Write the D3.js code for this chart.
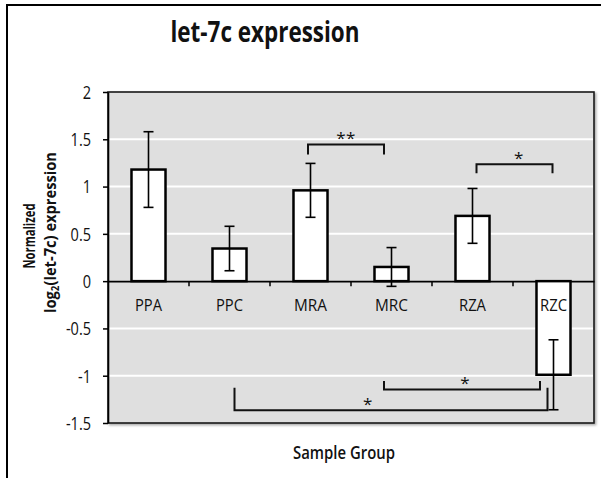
<!DOCTYPE html>
<html>
<head>
<meta charset="utf-8">
<script src="https://cdn.jsdelivr.net/npm/d3@7/dist/d3.min.js"></script>
<style>
  html, body { margin: 0; padding: 0; background: #fff; }
  svg { display: block; }
  text { font-family: "Open Sans", "Liberation Sans", sans-serif; fill: #111; }
</style>
</head>
<body>
<svg id="chart" width="601" height="478"></svg>
<script>
// ---- data ----
const categories = ["PPA", "PPC", "MRA", "MRC", "RZA", "RZC"];
const values = [1.18, 0.345, 0.96, 0.15, 0.69, -0.99];
const errors = [0.40, 0.235, 0.285, 0.205, 0.29, 0.37];
const yTicks = [2, 1.5, 1, 0.5, 0, -0.5, -1, -1.5];
const yTickLabels = ["2", "1.5", "1", "0.5", "0", "-0.5", "-1", "-1.5"];
const titleText = "let-7c expression";
const xTitle = "Sample Group";
// significance brackets: from/to category, bar level and leg end level (value units)
const brackets = [
  { from: "MRA", to: "MRC", level: 1.445, legEnd: 1.34, label: "**" },
  { from: "RZA", to: "RZC", level: 1.237, legEnd: 1.14, label: "*" },
  { from: "MRC", to: "RZC", level: -1.145, legEnd: -1.055, label: "*" },
  { from: "PPC", to: "RZC", level: -1.364, legEnd: -1.128, label: "*" }
];

// ---- layout (not data) ----
const plot = { left: 108, right: 594, top: 92, bottom: 423 };
const bracketLayout = [
  { dx0: -2.5, dx1: -7.5, t: 0.5 },
  { dx0: 4, dx1: -1, t: 0.56 },
  { dx0: -7.5, dx1: -13.5, t: 0.52 },
  { dx0: 5, dx1: -6, t: 0.426 }
];

const svg = d3.select("#chart");

const x = d3.scaleBand().domain(categories)
  .range([plot.left, plot.right]).paddingInner(0.58).paddingOuter(0.29);
const y = d3.scaleLinear().domain([-1.5, 2]).range([plot.bottom, plot.top]);
const cx = c => x(c) + x.bandwidth() / 2;

function fitText(parent, str, px, py, o) {
  const g = parent.append("g")
    .attr("transform", `translate(${px},${py})` + (o.rotate ? ` rotate(${o.rotate})` : ""));
  const t = g.append("text")
    .attr("font-size", o.size)
    .attr("font-weight", o.weight || 400)
    .attr("text-anchor", o.anchor || "middle");
  if (typeof str === "function") str(t); else t.text(str);
  if (o.width) t.attr("textLength", o.width).attr("lengthAdjust", "spacingAndGlyphs");
  return t;
}

// outer frame
svg.append("path")
  .attr("d", "M7,478 V5 H601")
  .attr("fill", "none").attr("stroke", "#000").attr("stroke-width", 2);

// plot area with shadow
const defs = svg.append("defs");
const f = defs.append("filter").attr("id", "sh").attr("x", "-5%").attr("y", "-5%").attr("width", "110%").attr("height", "110%");
f.append("feDropShadow").attr("dx", 1.5).attr("dy", 1.5).attr("stdDeviation", 1.2).attr("flood-color", "#000").attr("flood-opacity", 0.35);

svg.append("rect")
  .attr("x", plot.left).attr("y", plot.top)
  .attr("width", plot.right - plot.left).attr("height", plot.bottom - plot.top)
  .attr("fill", "#dfdfdf").attr("stroke", "#1a1a1a").attr("stroke-width", 1.6)
  .attr("filter", "url(#sh)");

// gridlines
svg.append("g").selectAll("line")
  .data(yTicks.filter(v => v !== 0 && v !== 2 && v !== -1.5))
  .join("line")
  .attr("x1", plot.left + 1).attr("x2", plot.right - 1)
  .attr("y1", d => y(d)).attr("y2", d => y(d))
  .attr("stroke", "#fff").attr("stroke-width", 2);

// y axis
const yScaleX = 0.83;
const yAxis = svg.append("g").attr("transform", `translate(${plot.left},0)`)
  .call(d3.axisLeft(y).tickValues(yTicks).tickSize(5).tickSizeOuter(0)
    .tickFormat((d, i) => yTickLabels[i]));
yAxis.select(".domain").attr("stroke", "#000").attr("stroke-width", 1.6);
yAxis.selectAll(".tick line").attr("stroke", "#000").attr("stroke-width", 1.5);
yAxis.selectAll(".tick text")
  .attr("font-size", 17.5).attr("font-family", "Open Sans").attr("fill", "#111")
  .attr("x", -17 / yScaleX).attr("dy", "0.36em")
  .attr("transform", `scale(${yScaleX},1)`);

// zero axis line
const xAxis = svg.append("g").attr("transform", `translate(0,${y(0)})`)
  .call(d3.axisBottom(x).tickSize(0).tickSizeOuter(0).tickFormat(""));
xAxis.select(".domain").attr("stroke", "#000").attr("stroke-width", 1.6);

// tick marks between categories
const step = x.step();
svg.append("g").selectAll("line")
  .data(categories.slice(0, -1))
  .join("line")
  .attr("x1", d => cx(d) + step / 2).attr("x2", d => cx(d) + step / 2)
  .attr("y1", y(0)).attr("y2", y(0) + 5)
  .attr("stroke", "#000").attr("stroke-width", 1.5);

// bars
svg.append("g").selectAll("rect")
  .data(categories)
  .join("rect")
  .attr("x", d => x(d))
  .attr("width", x.bandwidth())
  .attr("y", (d, i) => y(Math.max(0, values[i])))
  .attr("height", (d, i) => Math.abs(y(values[i]) - y(0)))
  .attr("fill", "#fff").attr("stroke", "#000").attr("stroke-width", 2.5);

// error bars
const eb = svg.append("g").attr("stroke", "#000").attr("stroke-width", 1.6);
categories.forEach((c, i) => {
  const hi = values[i] + errors[i], lo = values[i] - errors[i];
  eb.append("line").attr("x1", cx(c)).attr("x2", cx(c)).attr("y1", y(hi)).attr("y2", y(lo));
  eb.append("line").attr("x1", cx(c) - 5).attr("x2", cx(c) + 5).attr("y1", y(hi)).attr("y2", y(hi));
  eb.append("line").attr("x1", cx(c) - 5).attr("x2", cx(c) + 5).attr("y1", y(lo)).attr("y2", y(lo));
});

// category labels
categories.forEach(c => {
  fitText(svg, c, cx(c), y(0) + 30, { size: 17, width: (c[0] === "M" ? 33 : 27) });
});

// significance brackets
const bg = svg.append("g");
brackets.forEach((b, i) => {
  const L = bracketLayout[i];
  const x0 = cx(b.from) + L.dx0, x1 = cx(b.to) + L.dx1;
  const yl = y(b.level), ye = y(b.legEnd);
  bg.append("path")
    .attr("d", `M${x0},${ye} V${yl} H${x1} V${ye}`)
    .attr("fill", "none").attr("stroke", "#111").attr("stroke-width", 2);
  const sx = x0 + (x1 - x0) * L.t;
  const sy = yl - 10;
  bg.append("text")
    .attr("x", sx).attr("y", sy + 9.8)
    .attr("text-anchor", "middle")
    .attr("font-size", 17).attr("font-family", "Open Sans")
    .attr("letter-spacing", 0.5)
    .text(b.label);
});

// title
fitText(svg, titleText, 265, 42, { size: 29, weight: 700, width: 189 });

// x axis title
fitText(svg, xTitle, 344, 459, { size: 18, weight: 600, width: 102 });

// y axis title (two lines)
fitText(svg, "Normalized", 35, 236, { size: 16.5, weight: 700, width: 65, rotate: -90 });
fitText(svg, t => {
  t.append("tspan").text("log");
  t.append("tspan").attr("font-size", 11).attr("dy", 3).text("2");
  t.append("tspan").attr("dy", -3).text("(let-7c) expression");
}, 56, 232.5, { size: 16.5, weight: 700, width: 161, rotate: -90 });
</script>
</body>
</html>
